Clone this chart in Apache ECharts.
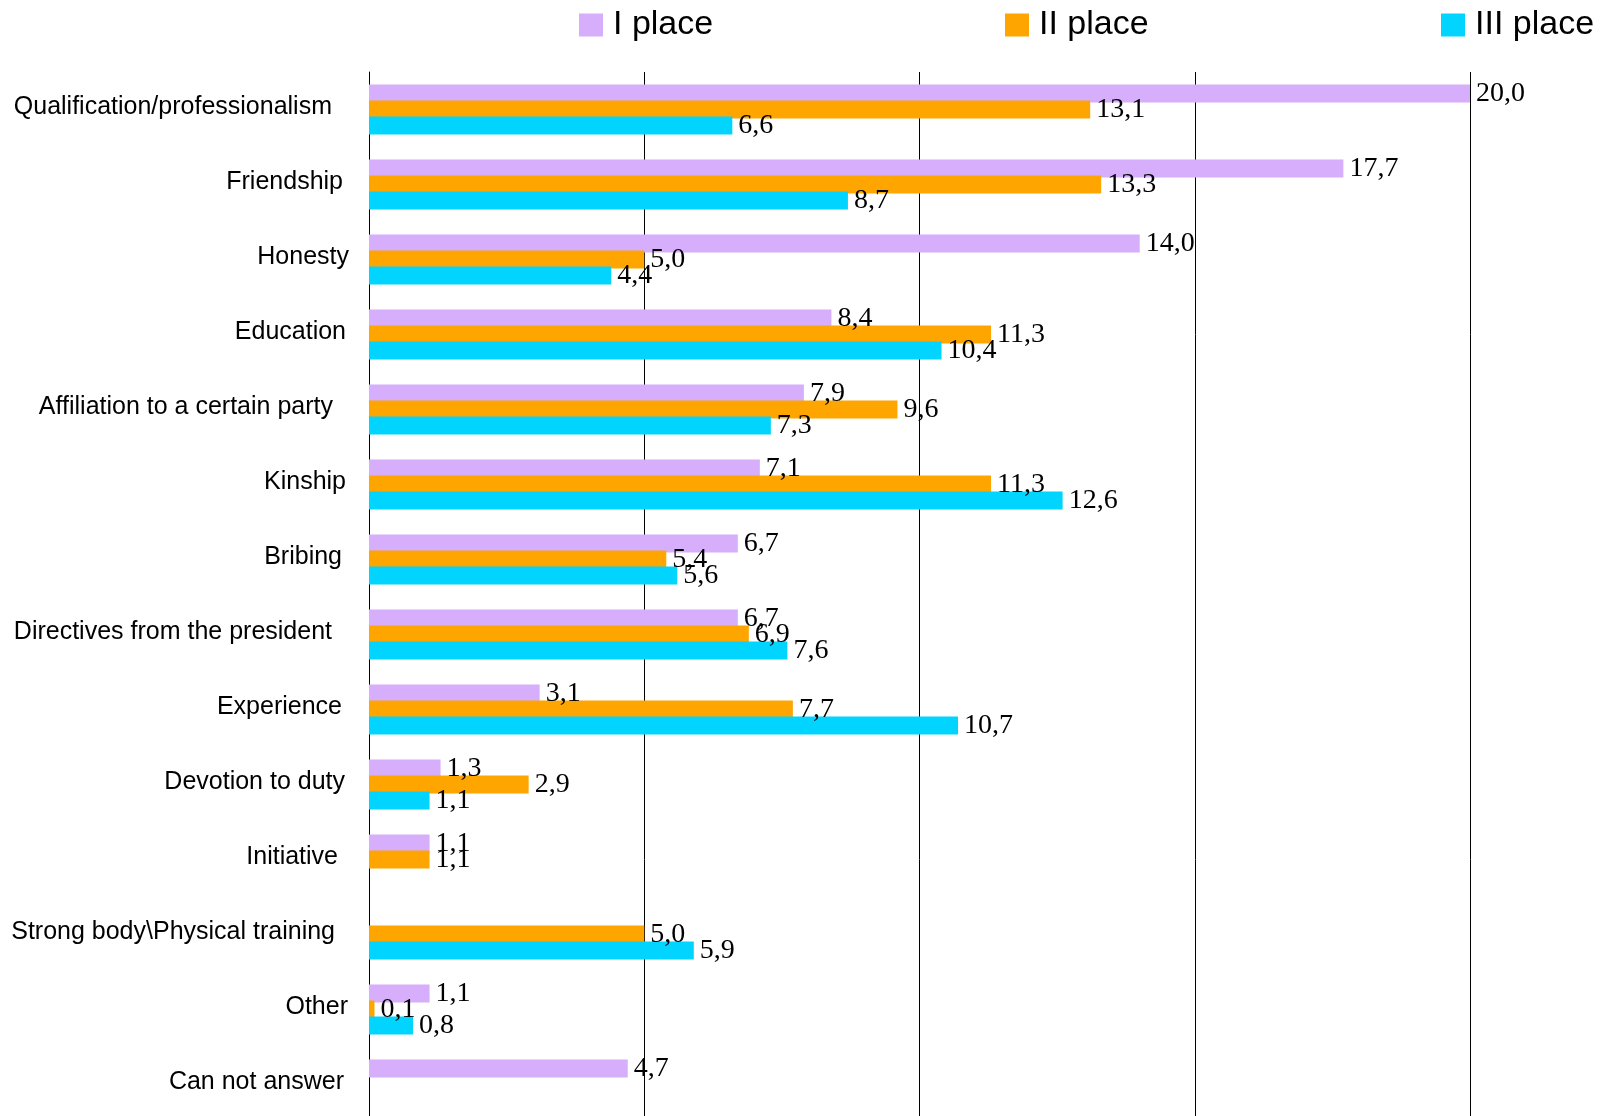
<!DOCTYPE html>
<html>
<head>
<meta charset="utf-8">
<script src="https://cdn.jsdelivr.net/npm/echarts@6/dist/echarts.min.js"></script>
<style>
html,body{margin:0;padding:0;background:#fff;overflow:hidden;}
#chart{width:1603px;height:1130px;}
</style>
</head>
<body>
<div id="chart"></div>
<script>
const categories = [
  "Qualification/professionalism",
  "Friendship",
  "Honesty",
  "Education",
  "Affiliation to a certain party",
  "Kinship",
  "Bribing",
  "Directives from the president",
  "Experience",
  "Devotion to duty",
  "Initiative",
  "Strong body\\Physical training",
  "Other",
  "Can not answer"
];
const seriesNames = ["I place", "II place", "III place"];
const place1 = [20.0, 17.7, 14.0, 8.4, 7.9, 7.1, 6.7, 6.7, 3.1, 1.3, 1.1, null, 1.1, 4.7];
const place2 = [13.1, 13.3, 5.0, 11.3, 9.6, 11.3, 5.4, 6.9, 7.7, 2.9, 1.1, 5.0, 0.1, null];
const place3 = [6.6, 8.7, 4.4, 10.4, 7.3, 12.6, 5.6, 7.6, 10.7, 1.1, null, 5.9, 0.8, null];
const xTicks = [0, 5, 10, 15, 20];

// styling only: colours, label right-padding per row, legend x positions
const colors = ["#D6AEFC", "#FFA500", "#00D4FF"];
const labelRightPad = [17, 6, 0, 3, 16, 3, 7, 17, 7, 4, 11, 14, 1, 5];
const legendLeft = [579, 1005, 1441];

const sansFont = '"Liberation Sans", Arial, sans-serif';
const serifFont = '"Liberation Serif", "Times New Roman", serif';

const chart = echarts.init(document.getElementById('chart'), null, {renderer: 'canvas'});

function mkSeries(name, data, color) {
  return {
    name: name,
    type: 'bar',
    data: data,
    barWidth: 18,
    barGap: '-11%',
    itemStyle: {color: color},
    label: {
      show: true,
      position: 'right',
      distance: 6,
      color: '#000',
      fontFamily: serifFont,
      fontSize: 28,
      formatter: p => p.value == null ? '' : Number(p.value).toFixed(1).replace('.', ',')
    },
    animation: false
  };
}

const rich = {};
labelRightPad.forEach((pad, i) => {
  rich['r' + i] = {
    fontFamily: sansFont,
    fontSize: 25,
    color: '#000',
    padding: [0, pad, 0, 0]
  };
});

const legends = seriesNames.map((n, i) => ({
  data: [n],
  top: 8,
  left: legendLeft[i],
  padding: 0,
  icon: 'rect',
  itemWidth: 24,
  itemHeight: 23,
  textStyle: {
    fontFamily: sansFont,
    fontSize: 34,
    color: '#000',
    padding: [0, 0, 0, 5]
  }
}));

chart.setOption({
  animation: false,
  color: colors,
  legend: legends,
  grid: {left: 369, right: 133, top: 72, height: 1050, containLabel: false},
  xAxis: {
    type: 'value',
    min: xTicks[0],
    max: xTicks[xTicks.length - 1],
    interval: 5,
    axisLine: {show: false},
    axisTick: {show: false},
    axisLabel: {show: false},
    splitLine: {show: true, lineStyle: {color: '#000', width: 1}}
  },
  yAxis: {
    type: 'category',
    data: categories,
    inverse: true,
    axisLine: {show: true, lineStyle: {color: '#000', width: 1}},
    axisTick: {show: false},
    axisLabel: {
      margin: 20,
      color: '#000',
      fontFamily: sansFont,
      fontSize: 25,
      padding: [0, 0, 5, 0],
      formatter: (v, i) => '{r' + i + '|' + v + '}',
      rich: rich
    }
  },
  series: [
    mkSeries(seriesNames[0], place1, colors[0]),
    mkSeries(seriesNames[1], place2, colors[1]),
    mkSeries(seriesNames[2], place3, colors[2])
  ]
});
</script>
</body>
</html>
